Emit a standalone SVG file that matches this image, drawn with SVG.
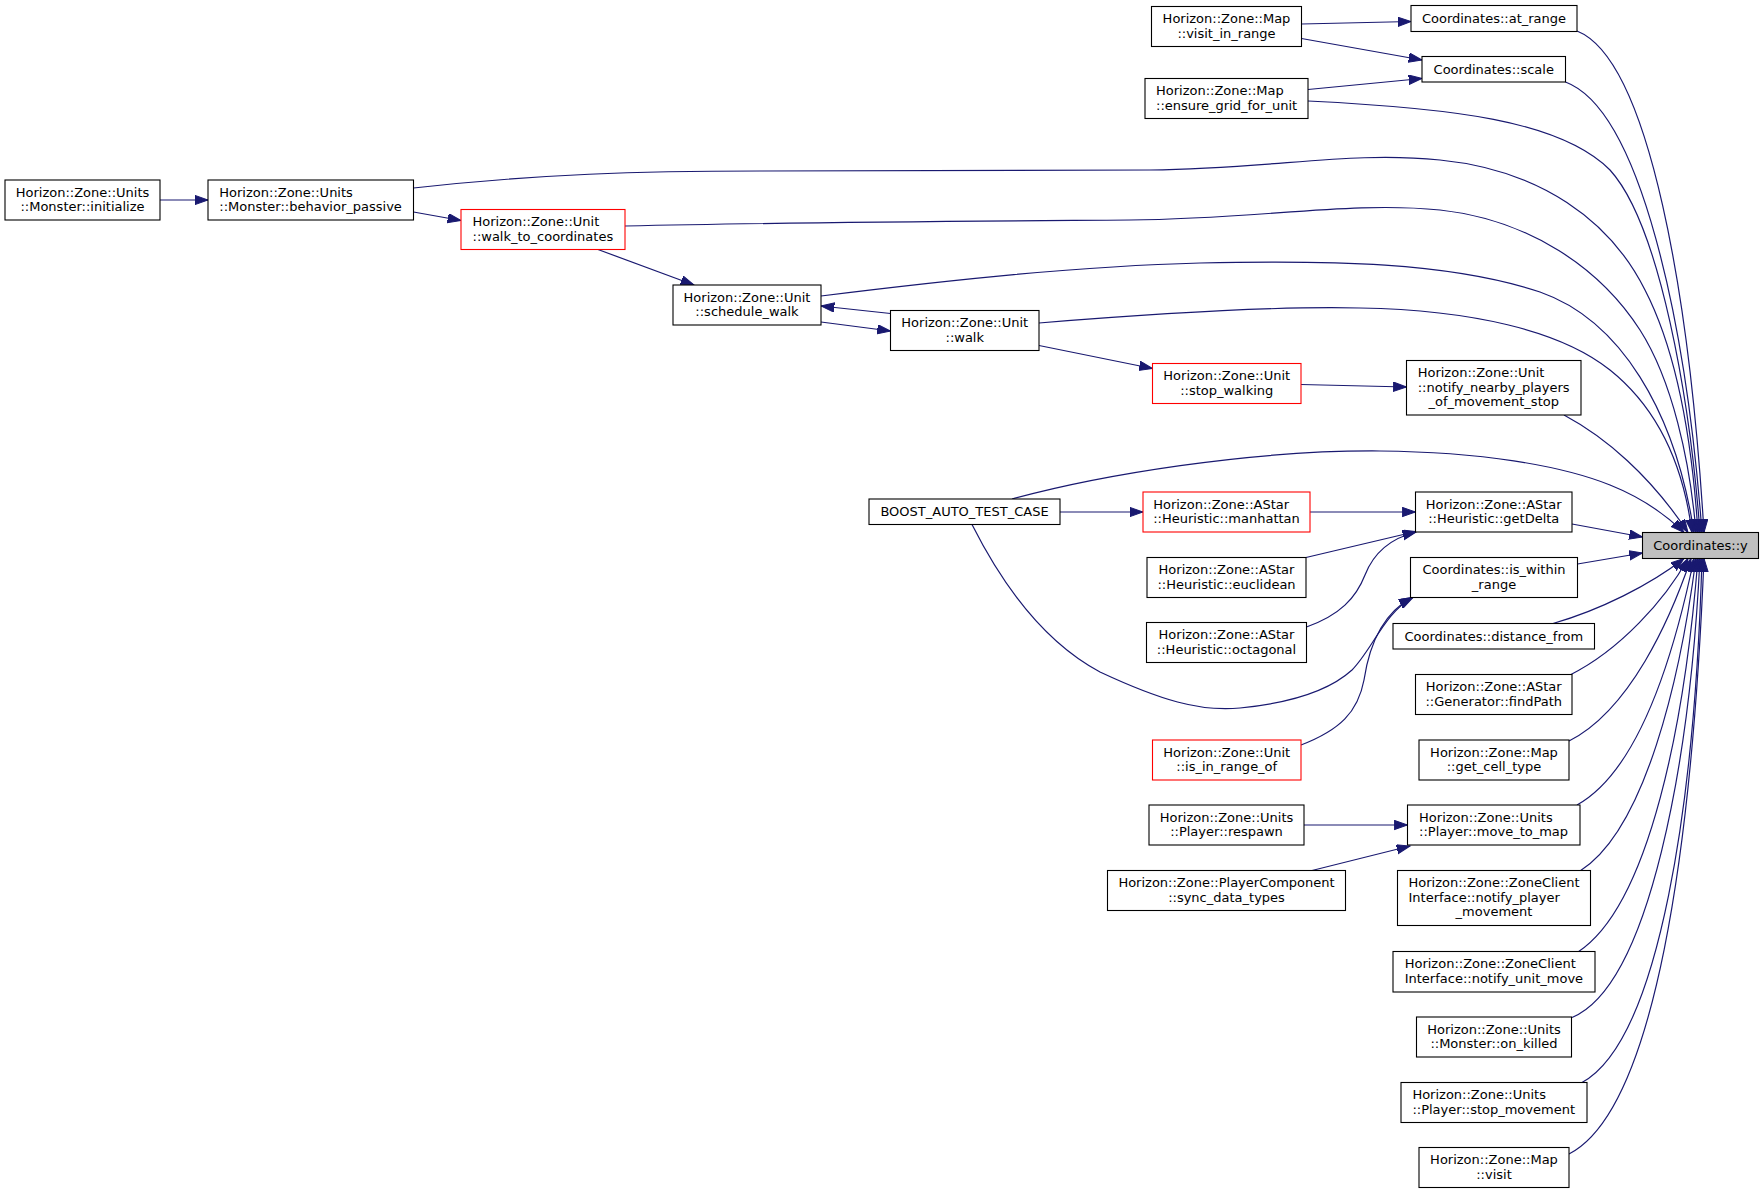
<svg xmlns="http://www.w3.org/2000/svg" width="1764" height="1194" viewBox="0 0 1764 1194">
<style>
.n rect{fill:#ffffff;stroke:#000000;stroke-width:1.1}
.n.red rect{stroke:#ff0000}
.n.root rect{fill:#bfbfbf}
text{font-family:"DejaVu Sans","Liberation Sans",sans-serif;font-size:13px;fill:#000000}
.m{text-anchor:middle}
.s{text-anchor:start}
#edges path{fill:none;stroke:#191970;stroke-width:1.2;marker-end:url(#arr)}
</style>
<defs>
<marker id="arr" markerUnits="userSpaceOnUse" markerWidth="15" markerHeight="11" refX="13.3" refY="4.7" orient="auto">
<path d="M0,0 L13.3,4.7 L0,9.4 z" fill="#191970" stroke="#191970" stroke-width="1"/>
</marker>
</defs>
<rect x="0" y="0" width="1764" height="1194" fill="#ffffff"/>

<g id="edges">
<path d="M1301.5,24 L1411,21.5"/>
<path d="M1301.5,38.5 L1422,60"/>
<path d="M1308,89.5 L1422,78.5"/>
<path d="M160,200 L208,200"/>
<path d="M413.5,212 L461,220.5"/>
<path d="M598,249.5 L694,285"/>
<path d="M890.5,313.5 L821,306"/>
<path d="M821,322 L890.5,331"/>
<path d="M1039,345.5 L1152.5,368.5"/>
<path d="M1301,384.5 L1406.5,387"/>
<path d="M1060,512 L1143,512"/>
<path d="M1310,512 L1415.5,512"/>
<path d="M1306,557.5 L1416,531.5"/>
<path d="M1306.5,627 C1340,615 1356,598 1365,575 C1374,552 1392,538 1416,532"/>
<path d="M972,524.5 C1000,580 1040,640 1100,672 C1160,700 1200,712 1240,708 C1290,703 1330,690 1352,670 C1372,650 1385,612 1413,597.5"/>
<path d="M1301,745 C1340,730 1358,712 1364,680 C1370,640 1385,612 1412,597.5"/>
<path d="M1304,825 L1407.5,825"/>
<path d="M1310,871 L1410,846"/>
<path d="M1577,31 C1650,60 1690,300 1704,532.5"/>
<path d="M1565.5,82 C1640,110 1686,320 1702,532.5"/>
<path d="M1308,101 C1450,108 1560,120 1610,170 C1660,225 1690,400 1700,532.5"/>
<path d="M413.5,188 C540,174 640,171 760,171 C900,171 1040,171 1150,170 C1280,168 1350,151 1440,160 C1540,170 1610,220 1645,290 C1676,350 1692,440 1698,532.5"/>
<path d="M625,226 C800,222 1000,221 1130,220 C1260,219 1350,201 1440,210 C1530,220 1600,268 1640,330 C1672,380 1690,460 1696,532.5"/>
<path d="M821,296 C950,280 1080,266 1200,263 C1330,260 1450,262 1540,292 C1620,320 1675,410 1694,532.5"/>
<path d="M1039,323 C1150,314 1280,306 1360,308 C1470,310 1560,330 1610,370 C1660,410 1684,470 1692,532.5"/>
<path d="M1564,415 C1605,437 1650,475 1688,532.5"/>
<path d="M1012,499 C1100,475 1250,450 1380,451 C1480,452 1560,465 1610,485 C1640,497 1665,514 1684,532.5"/>
<path d="M1572,524 L1642.5,537"/>
<path d="M1577.5,564 L1642.5,553"/>
<path d="M1553,623.5 C1600,610 1650,585 1684,558.5"/>
<path d="M1570,675 C1620,650 1665,600 1688,558.5"/>
<path d="M1569,741 C1630,710 1670,620 1691,558.5"/>
<path d="M1577,805 C1640,770 1675,650 1694,558.5"/>
<path d="M1580,871 C1645,830 1680,680 1696,558.5"/>
<path d="M1578,952 C1650,905 1685,720 1698,558.5"/>
<path d="M1572,1017.5 C1650,985 1690,760 1700,558.5"/>
<path d="M1582,1082.5 C1660,1040 1695,800 1702,558.5"/>
<path d="M1569,1154 C1655,1110 1692,850 1704,558.5"/>
</g>

<g id="node-y" class="n root"><rect x="1642.5" y="532.5" width="116" height="26"/><text class="m" x="1700.5" y="549.5">Coordinates::y</text></g>
<g id="node-at_range" class="n"><rect x="1411" y="5.5" width="166" height="26"/><text class="m" x="1494" y="22.5">Coordinates::at_range</text></g>
<g id="node-scale" class="n"><rect x="1422" y="56.5" width="143.5" height="25.5"/><text class="m" x="1493.75" y="73.5">Coordinates::scale</text></g>
<g id="node-visit_in_range" class="n"><rect x="1151.5" y="6.5" width="150" height="40"/><text class="m" x="1226.5" y="23">Horizon::Zone::Map</text><text class="m" x="1226.5" y="37.5">::visit_in_range</text></g>
<g id="node-ensure_grid" class="n"><rect x="1145" y="78.5" width="163" height="40"/><text class="s" x="1156" y="95">Horizon::Zone::Map</text><text class="s" x="1156" y="109.5">::ensure_grid_for_unit</text></g>
<g id="node-initialize" class="n"><rect x="5" y="180" width="155" height="40"/><text class="m" x="82.5" y="196.5">Horizon::Zone::Units</text><text class="m" x="82.5" y="211">::Monster::initialize</text></g>
<g id="node-behavior_passive" class="n"><rect x="208" y="180" width="205.5" height="40"/><text class="s" x="219.3" y="196.5">Horizon::Zone::Units</text><text class="s" x="219.3" y="211">::Monster::behavior_passive</text></g>
<g id="node-walk_to_coordinates" class="n red"><rect x="461" y="209.5" width="164" height="40"/><text class="s" x="472.5" y="226">Horizon::Zone::Unit</text><text class="s" x="472.5" y="240.5">::walk_to_coordinates</text></g>
<g id="node-schedule_walk" class="n"><rect x="673" y="285" width="148" height="40"/><text class="m" x="747" y="301.5">Horizon::Zone::Unit</text><text class="m" x="747" y="316">::schedule_walk</text></g>
<g id="node-walk" class="n"><rect x="890.5" y="310.5" width="148.5" height="40"/><text class="m" x="964.75" y="327">Horizon::Zone::Unit</text><text class="m" x="964.75" y="341.5">::walk</text></g>
<g id="node-stop_walking" class="n red"><rect x="1152.5" y="363.5" width="148.5" height="40"/><text class="m" x="1226.75" y="380">Horizon::Zone::Unit</text><text class="m" x="1226.75" y="394.5">::stop_walking</text></g>
<g id="node-notify_nearby" class="n"><rect x="1406.5" y="360.5" width="174.5" height="54.5"/><text class="s" x="1417.7" y="377">Horizon::Zone::Unit</text><text class="s" x="1417.7" y="391.5">::notify_nearby_players</text><text class="m" x="1493.75" y="406">_of_movement_stop</text></g>
<g id="node-boost" class="n"><rect x="869" y="499" width="191" height="25.5"/><text class="m" x="964.5" y="516">BOOST_AUTO_TEST_CASE</text></g>
<g id="node-manhattan" class="n red"><rect x="1143" y="492" width="167" height="40"/><text class="s" x="1153.2" y="508.5">Horizon::Zone::AStar</text><text class="s" x="1153.2" y="523">::Heuristic::manhattan</text></g>
<g id="node-getDelta" class="n"><rect x="1415.5" y="492" width="156.5" height="40"/><text class="m" x="1493.75" y="508.5">Horizon::Zone::AStar</text><text class="m" x="1493.75" y="523">::Heuristic::getDelta</text></g>
<g id="node-euclidean" class="n"><rect x="1147" y="557.5" width="159" height="40"/><text class="m" x="1226.5" y="574">Horizon::Zone::AStar</text><text class="m" x="1226.5" y="588.5">::Heuristic::euclidean</text></g>
<g id="node-octagonal" class="n"><rect x="1146.5" y="622.5" width="160" height="40"/><text class="m" x="1226.5" y="639">Horizon::Zone::AStar</text><text class="m" x="1226.5" y="653.5">::Heuristic::octagonal</text></g>
<g id="node-is_within" class="n"><rect x="1410.5" y="557.5" width="167" height="40"/><text class="m" x="1494" y="574">Coordinates::is_within</text><text class="m" x="1494" y="588.5">_range</text></g>
<g id="node-distance_from" class="n"><rect x="1393" y="623.5" width="201.5" height="25.5"/><text class="m" x="1493.75" y="640.5">Coordinates::distance_from</text></g>
<g id="node-findPath" class="n"><rect x="1415.5" y="674.5" width="156.5" height="40"/><text class="m" x="1493.75" y="691">Horizon::Zone::AStar</text><text class="m" x="1493.75" y="705.5">::Generator::findPath</text></g>
<g id="node-get_cell_type" class="n"><rect x="1419" y="740" width="150" height="40"/><text class="m" x="1494" y="756.5">Horizon::Zone::Map</text><text class="m" x="1494" y="771">::get_cell_type</text></g>
<g id="node-is_in_range_of" class="n red"><rect x="1152.5" y="740" width="148.5" height="40"/><text class="m" x="1226.75" y="756.5">Horizon::Zone::Unit</text><text class="m" x="1226.75" y="771">::is_in_range_of</text></g>
<g id="node-move_to_map" class="n"><rect x="1407.5" y="805" width="172.5" height="40"/><text class="s" x="1419.1" y="821.5">Horizon::Zone::Units</text><text class="s" x="1419.1" y="836">::Player::move_to_map</text></g>
<g id="node-respawn" class="n"><rect x="1149" y="805" width="155" height="40"/><text class="m" x="1226.5" y="821.5">Horizon::Zone::Units</text><text class="m" x="1226.5" y="836">::Player::respawn</text></g>
<g id="node-sync_data_types" class="n"><rect x="1107.5" y="870.5" width="238" height="40"/><text class="m" x="1226.5" y="887">Horizon::Zone::PlayerComponent</text><text class="m" x="1226.5" y="901.5">::sync_data_types</text></g>
<g id="node-notify_player_movement" class="n"><rect x="1397.5" y="870.5" width="193" height="55"/><text class="s" x="1408.5" y="887">Horizon::Zone::ZoneClient</text><text class="s" x="1408.5" y="901.5">Interface::notify_player</text><text class="m" x="1494" y="916">_movement</text></g>
<g id="node-notify_unit_move" class="n"><rect x="1393" y="951.5" width="202" height="40.5"/><text class="s" x="1404.7" y="968">Horizon::Zone::ZoneClient</text><text class="s" x="1404.7" y="982.5">Interface::notify_unit_move</text></g>
<g id="node-on_killed" class="n"><rect x="1416.5" y="1017" width="155" height="40"/><text class="m" x="1494" y="1033.5">Horizon::Zone::Units</text><text class="m" x="1494" y="1048">::Monster::on_killed</text></g>
<g id="node-stop_movement" class="n"><rect x="1401" y="1082.5" width="186" height="40"/><text class="s" x="1412.4" y="1099">Horizon::Zone::Units</text><text class="s" x="1412.4" y="1113.5">::Player::stop_movement</text></g>
<g id="node-visit" class="n"><rect x="1419" y="1147.5" width="150" height="40"/><text class="m" x="1494" y="1164">Horizon::Zone::Map</text><text class="m" x="1494" y="1178.5">::visit</text></g>
</svg>
